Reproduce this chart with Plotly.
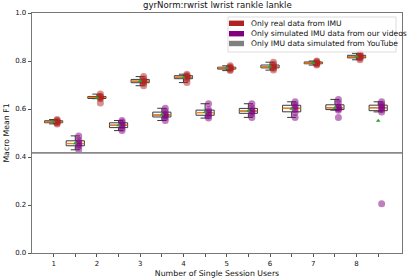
import numpy as np
import plotly.graph_objects as go

# ---- data ----
groups = [1, 2, 3, 4, 5, 6, 7, 8]
group_labels = ["1", "2", "3", "4", "5", "6", "7", "8"]

real_imu = [
    [0.538, 0.542, 0.545, 0.548, 0.552, 0.556],
    [0.625, 0.643, 0.647, 0.650, 0.653, 0.662],
    [0.697, 0.708, 0.714, 0.718, 0.725, 0.735],
    [0.710, 0.725, 0.730, 0.735, 0.740, 0.745],
    [0.760, 0.765, 0.770, 0.772, 0.775, 0.780],
    [0.762, 0.770, 0.775, 0.778, 0.785, 0.795],
    [0.783, 0.788, 0.790, 0.793, 0.797, 0.800],
    [0.805, 0.812, 0.816, 0.820, 0.825, 0.832],
]
sim_videos = [
    [0.430, 0.445, 0.452, 0.460, 0.470, 0.488],
    [0.510, 0.520, 0.530, 0.535, 0.545, 0.552],
    [0.552, 0.565, 0.572, 0.578, 0.590, 0.603],
    [0.562, 0.572, 0.580, 0.590, 0.597, 0.622],
    [0.565, 0.580, 0.588, 0.595, 0.605, 0.622],
    [0.565, 0.585, 0.598, 0.608, 0.618, 0.630],
    [0.565, 0.595, 0.600, 0.605, 0.610, 0.625, 0.640],
    [0.205, 0.588, 0.598, 0.605, 0.612, 0.620, 0.630],
]
baseline = 0.417

legend_names = [
    "Only real data from IMU",
    "Only simulated IMU data from our videos",
    "Only IMU data simulated from YouTube",
]
legend_colors = ["#b22222", "#800080", "#808080"]
dot_colors = ["rgba(178,34,34,0.5)", "rgba(128,0,128,0.5)"]

title = "gyrNorm:rwrist lwrist rankle lankle"
x_title = "Number of Single Session Users"
y_title = "Macro Mean F1"

# ---- figure ----
W, H = 407, 280
ML, MR, MT, MB = 32, 5, 13, 27
PW, PH = W - ML - MR, H - MT - MB

def px_x(p):
    return (p - ML) / PW

def px_y(p):
    return (H - MB - p) / PH

fig = go.Figure()
BOXW = 0.42
DOT_OFF = 0.08


def stats(v):
    v = np.sort(np.asarray(v, dtype=float))
    q1, med, q3 = np.percentile(v, [25, 50, 75])
    iqr = q3 - q1
    lo = v[v >= q1 - 1.5 * iqr].min()
    hi = v[v <= q3 + 1.5 * iqr].max()
    return q1, med, q3, lo, hi, v.mean()


for series, offset, dcol in [(real_imu, 0.0, dot_colors[0]), (sim_videos, 0.5, dot_colors[1])]:
    for g, vals in zip(groups, series):
        pos = g + offset
        q1, med, q3, lo, hi, mean = stats(vals)
        fig.add_trace(go.Box(
            x=[pos], q1=[q1], median=[med], q3=[q3], lowerfence=[lo], upperfence=[hi],
            width=BOXW, whiskerwidth=0.5, fillcolor="rgba(0,0,0,0)",
            line=dict(color="#3a3a3a", width=1), boxpoints=False, showlegend=False,
            hoverinfo="skip"))
        fig.add_trace(go.Scatter(
            x=[pos - BOXW / 2, pos + BOXW / 2], y=[med, med], mode="lines",
            line=dict(color="#ff7f0e", width=1.2), showlegend=False, hoverinfo="skip"))
        fig.add_trace(go.Scatter(
            x=[pos + DOT_OFF] * len(vals), y=vals, mode="markers",
            marker=dict(color=dcol, size=7, line=dict(width=0)),
            showlegend=False, hoverinfo="skip"))
        fig.add_trace(go.Scatter(
            x=[pos], y=[mean], mode="markers",
            marker=dict(color="#2ca02c", size=4, symbol="triangle-up", line=dict(width=0)),
            showlegend=False, hoverinfo="skip"))

# baseline line
fig.add_shape(type="line", xref="paper", yref="y", x0=0, x1=1, y0=baseline, y1=baseline,
              line=dict(color="#888888", width=1.8))

# manual legend
fig.add_shape(type="rect", xref="paper", yref="paper",
              x0=px_x(228), x1=px_x(396), y0=px_y(52), y1=px_y(17),
              line=dict(color="#dddddd", width=1), fillcolor="rgba(255,255,255,0.8)")
rows = [23.3, 33.7, 43.5]
for name, col, ry in zip(legend_names, legend_colors, rows):
    fig.add_shape(type="rect", xref="paper", yref="paper",
                  x0=px_x(229), x1=px_x(244), y0=px_y(ry + 2.7), y1=px_y(ry - 2.7),
                  line=dict(width=0), fillcolor=col)
    fig.add_annotation(xref="paper", yref="paper", x=px_x(249), y=px_y(ry),
                       text=name, showarrow=False, xanchor="left", yanchor="middle",
                       font=dict(family="DejaVu Sans", size=7.6, color="#111111"))

fig.add_annotation(xref="paper", yref="paper", x=0.5, y=1, yshift=1,
                   text=title, showarrow=False, xanchor="center", yanchor="bottom",
                   font=dict(family="DejaVu Sans", size=8.6, color="#111111"))

tickvals = []
ticktext = []
for g, lab in zip(groups, group_labels):
    tickvals += [g, g + 0.5]
    ticktext += [lab, ""]

fig.update_layout(
    width=W, height=H,
    margin=dict(l=ML, r=MR, t=MT, b=MB, pad=0),
    paper_bgcolor="white", plot_bgcolor="white",
    showlegend=False,
    font=dict(family="DejaVu Sans", size=7, color="#111111"),
    xaxis=dict(range=[0.5, 9.05], tickvals=tickvals, ticktext=ticktext,
               showgrid=False, zeroline=False, showline=True, mirror=True,
               linecolor="#777777", linewidth=1.3, ticks="outside", ticklen=3,
               tickcolor="#555555", tickfont=dict(size=7),
               title=dict(text=x_title, font=dict(size=7.8), standoff=3)),
    yaxis=dict(range=[0, 1.0], tickvals=[0, 0.2, 0.4, 0.6, 0.8, 1.0], tickformat=".1f",
               showgrid=False, zeroline=False, showline=True, mirror=True,
               linecolor="#777777", linewidth=1.3, ticks="outside", ticklen=3,
               tickcolor="#555555", tickfont=dict(size=7),
               title=dict(text=y_title, font=dict(size=7.8), standoff=4)),
)

fig.write_html("out.html", config={"displayModeBar": False, "staticPlot": True},
               post_script="document.body.style.margin='0';document.body.style.overflow='hidden';")
